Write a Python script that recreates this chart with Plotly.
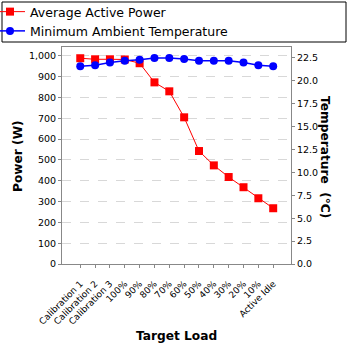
import plotly.graph_objects as go

categories = ["Calibration 1", "Calibration 2", "Calibration 3", "100%", "90%", "80%", "70%",
              "60%", "50%", "40%", "30%", "20%", "10%", "Active Idle"]
avg_power = [989, 984, 984, 983, 965, 873, 830, 705, 543, 474, 418, 369, 316, 268]
min_temp = [21.6, 21.7, 22.0, 22.2, 22.3, 22.5, 22.5, 22.4, 22.2, 22.2, 22.2, 22.0, 21.7, 21.6]

FONT = "DejaVu Sans"
W, H = 348, 348
L, R, T, B = 62, 57, 47, 84
pw, ph = W - L - R, H - T - B


def px_x(x):
    return (x - L) / pw


def px_y(y):
    return (H - B - y) / ph


fig = go.Figure()
fig.add_trace(go.Scatter(
    x=list(range(len(categories))), y=avg_power, name="Average Active Power",
    mode="lines+markers", line=dict(color="#ff0000", width=1),
    marker=dict(symbol="square", size=8, color="#ff0000"), yaxis="y"))
fig.add_trace(go.Scatter(
    x=list(range(len(categories))), y=min_temp, name="Minimum Ambient Temperature",
    mode="lines+markers", line=dict(color="#0000ff", width=1.5),
    marker=dict(symbol="circle", size=8, color="#0000ff"), yaxis="y2"))

fig.update_layout(
    width=W, height=H,
    margin=dict(l=L, r=R, t=T, b=B, autoexpand=False),
    paper_bgcolor="white", plot_bgcolor="white",
    font=dict(family=FONT, size=9, color="black"),
    showlegend=True,
    legend=dict(x=px_x(-10), y=px_y(-3), xanchor="left", yanchor="top",
                font=dict(family=FONT, size=12.5), bgcolor="rgba(0,0,0,0)",
                borderwidth=0, itemwidth=30, tracegroupgap=0),
    xaxis=dict(range=[-1.23, 14.2], tickmode="array", tickvals=list(range(len(categories))),
               ticktext=categories, tickangle=-45, showgrid=False, automargin=False,
               showline=True, linecolor="#888888", linewidth=1, mirror=True,
               ticks="outside", ticklen=3, tickcolor="#888888", ticklabelstandoff=7,
               tickfont=dict(family=FONT, size=9), zeroline=False),
    yaxis=dict(range=[0, 1043], tickvals=list(range(0, 1001, 100)), tickformat=",",
               showgrid=True, gridcolor="#d8d8d8", griddash="dash", gridwidth=1, automargin=False,
               showline=True, linecolor="#888888", linewidth=1,
               ticks="outside", ticklen=3, tickcolor="#888888",
               tickfont=dict(family=FONT, size=9.5), zeroline=False),
    yaxis2=dict(range=[0, 23.7], tickvals=[i * 2.5 for i in range(10)], tickformat=".1f",
                overlaying="y", side="right", showgrid=False, automargin=False,
                showline=True, linecolor="#888888", linewidth=1,
                ticks="outside", ticklen=3, tickcolor="#888888",
                tickfont=dict(family=FONT, size=9.5), zeroline=False),
)

TF = dict(family=FONT, size=12.2)
fig.add_annotation(text="<b>Target Load</b>", xref="paper", yref="paper",
                   x=px_x(176.5), y=px_y(336), showarrow=False, font=TF,
                   xanchor="center", yanchor="middle")
fig.add_annotation(text="<b>Power (W)</b>", textangle=-90, xref="paper", yref="paper",
                   x=px_x(18), y=px_y(156), showarrow=False, font=TF,
                   xanchor="center", yanchor="middle")
fig.add_annotation(text="<b>Temperature  (°C)</b>", textangle=90, xref="paper", yref="paper",
                   x=px_x(325), y=px_y(157), showarrow=False, font=TF,
                   xanchor="center", yanchor="middle")

fig.add_shape(type="rect", xref="paper", yref="paper",
              x0=px_x(2), x1=px_x(346), y0=px_y(42), y1=px_y(2),
              line=dict(color="black", width=1), fillcolor="rgba(0,0,0,0)")

fig.write_html("out.html")
